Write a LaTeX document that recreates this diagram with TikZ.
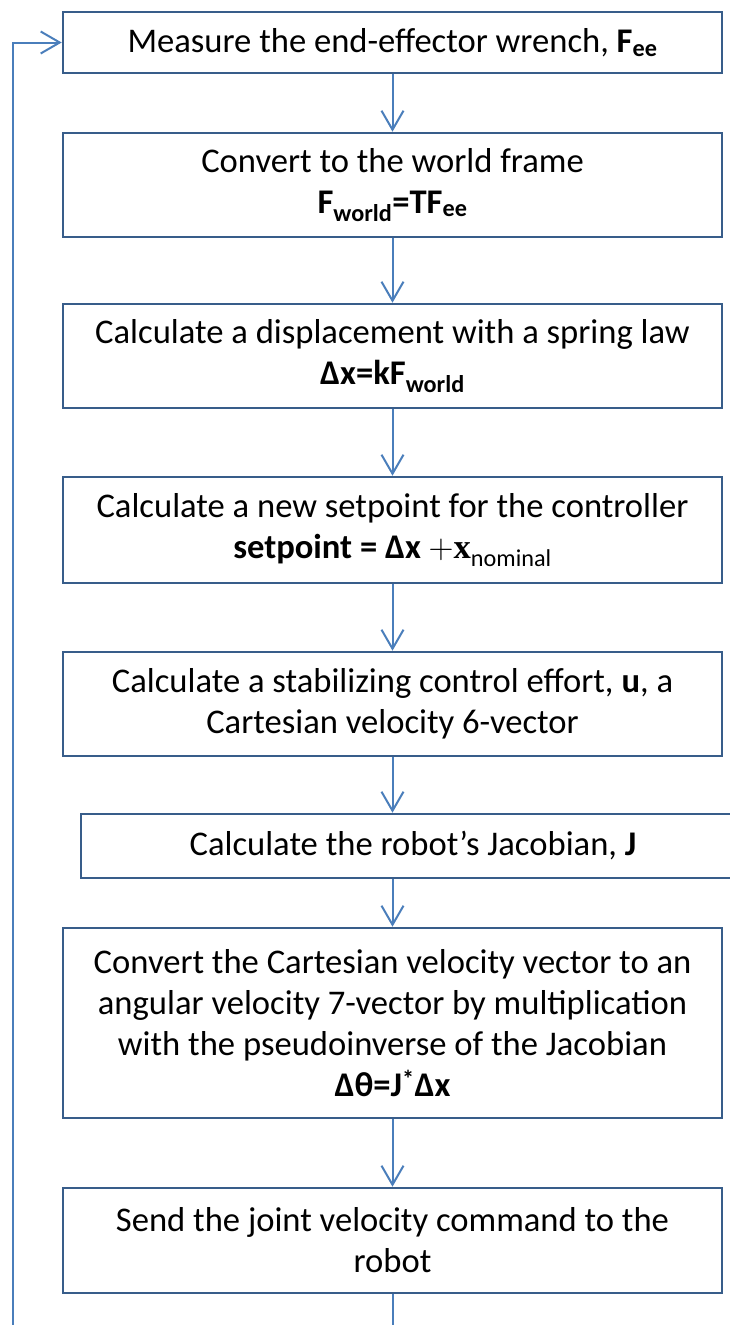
\documentclass[tikz,border=0pt]{standalone}
\usepackage{fontspec}
\setmainfont{Carlito}
\newfontfamily\mathserif{Liberation Serif}
\newfontfamily\plusfont{Latin Modern Roman}
\usetikzlibrary{arrows.meta}
\definecolor{boxblue}{RGB}{56,93,138}
\definecolor{flowblue}{RGB}{74,126,187}
\newcommand{\sbs}[1]{\textsubscript{#1}}

\begin{document}
\begin{tikzpicture}[x=1pt,y=-1pt,
  stepbox/.style={draw=boxblue, line width=2.6pt, rectangle, minimum width=659pt,
    align=center, inner sep=0pt, font=\fontsize{34.6}{41}\selectfont},
  flow/.style={draw=flowblue, line width=2pt,
    -{Straight Barb[length=19pt,width=22pt,line width=2pt]}}
]
\path[use as bounding box] (0,0) rectangle (730,1325);
\clip (0,0) rectangle (730,1325);

% process steps, top to bottom
\node[stepbox, minimum height=61pt] (b1) at (392.5,42.5)
  {Measure the end-effector wrench, \textbf{F\sbs{ee}}};
\node[stepbox, minimum height=104pt] (b2) at (392.5,185)
  {Convert to the world frame\\\textbf{F\sbs{world}=TF\sbs{ee}}};
\node[stepbox, minimum height=104pt] (b3) at (392.5,356)
  {Calculate a displacement with a spring law\\\textbf{Δx=kF\sbs{world}}};
\node[stepbox, minimum height=106pt] (b4) at (392.5,530)
  {Calculate a new setpoint for the controller\\\textbf{setpoint = Δx}\ {\plusfont +}{\mathserif\bfseries x}\sbs{nominal}};
\node[stepbox, minimum height=104pt] (b5) at (392.5,704)
  {Calculate a stabilizing control effort, \textbf{u}, a\\Cartesian velocity 6-vector};
\node[stepbox, minimum height=64pt, minimum width=664pt] (b6) at (413,846)
  {Calculate the robot’s Jacobian, \textbf{J}};
\node[stepbox, minimum height=190pt] (b7) at (392.5,1023)
  {Convert the Cartesian velocity vector to an\\angular velocity 7-vector by multiplication\\with the pseudoinverse of the Jacobian\\\textbf{Δθ=J\textsuperscript{*}Δx}};
\node[stepbox, minimum height=105pt] (b8) at (392.5,1240.5)
  {Send the joint velocity command to the\\robot};

% forward connectors
\draw[flow] (b1.south) -- (b2.north);
\draw[flow] (b2.south) -- (b3.north);
\draw[flow] (b3.south) -- (b4.north);
\draw[flow] (b4.south) -- (b5.north);
\draw[flow] (b5.south) -- (b5.south |- b6.north);
\draw[flow] (b6.south -| b7.north) -- (b7.north);
\draw[flow] (b7.south) -- (b8.north);

% feedback loop back to the first step
\coordinate (loopbot) at (12.5,1340);
\draw[flow] (b8.south) -- (b8.south |- loopbot) -- (loopbot) |- (b1.west);
\end{tikzpicture}
\end{document}
